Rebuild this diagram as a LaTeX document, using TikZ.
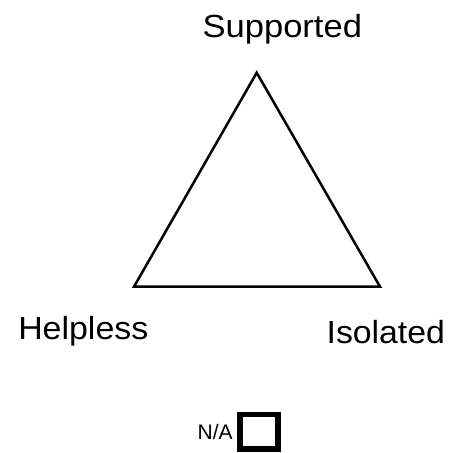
\documentclass[tikz,border=0pt]{standalone}
\usepackage{fontspec}
\setmainfont{Liberation Sans}
\begin{document}
\begin{tikzpicture}[x=1pt,y=-1pt,
  lbl/.style={anchor=base,inner sep=0pt,font=\fontsize{32}{36}\selectfont},
  smalllbl/.style={anchor=base,inner sep=0pt,font=\fontsize{21}{24}\selectfont},
  tri/.style={draw=black,line width=2.5pt,line join=miter},
  naBox/.style={draw=black,line width=5.7pt}]
\useasboundingbox (0,0) rectangle (449,453);
\coordinate (top) at (256.7,72.7);
\coordinate (bl) at (134,286.7);
\coordinate (br) at (380,286.7);
\draw[tri] (top) -- (bl) -- (br) -- cycle;
\node[lbl] (sup) at (282.3,37.3) {\scalebox{1.08}[1]{Supported}};
\node[lbl] (help) at (83.3,339.3) {\scalebox{1.06}[1]{Helpless}};
\node[lbl] (iso) at (385.8,343.3) {\scalebox{1.056}[1]{Isolated}};
\node[smalllbl] (na) at (215.2,439) {N/A};
\draw[naBox] (240.3,414.5) rectangle (277.8,449);
\end{tikzpicture}
\end{document}
